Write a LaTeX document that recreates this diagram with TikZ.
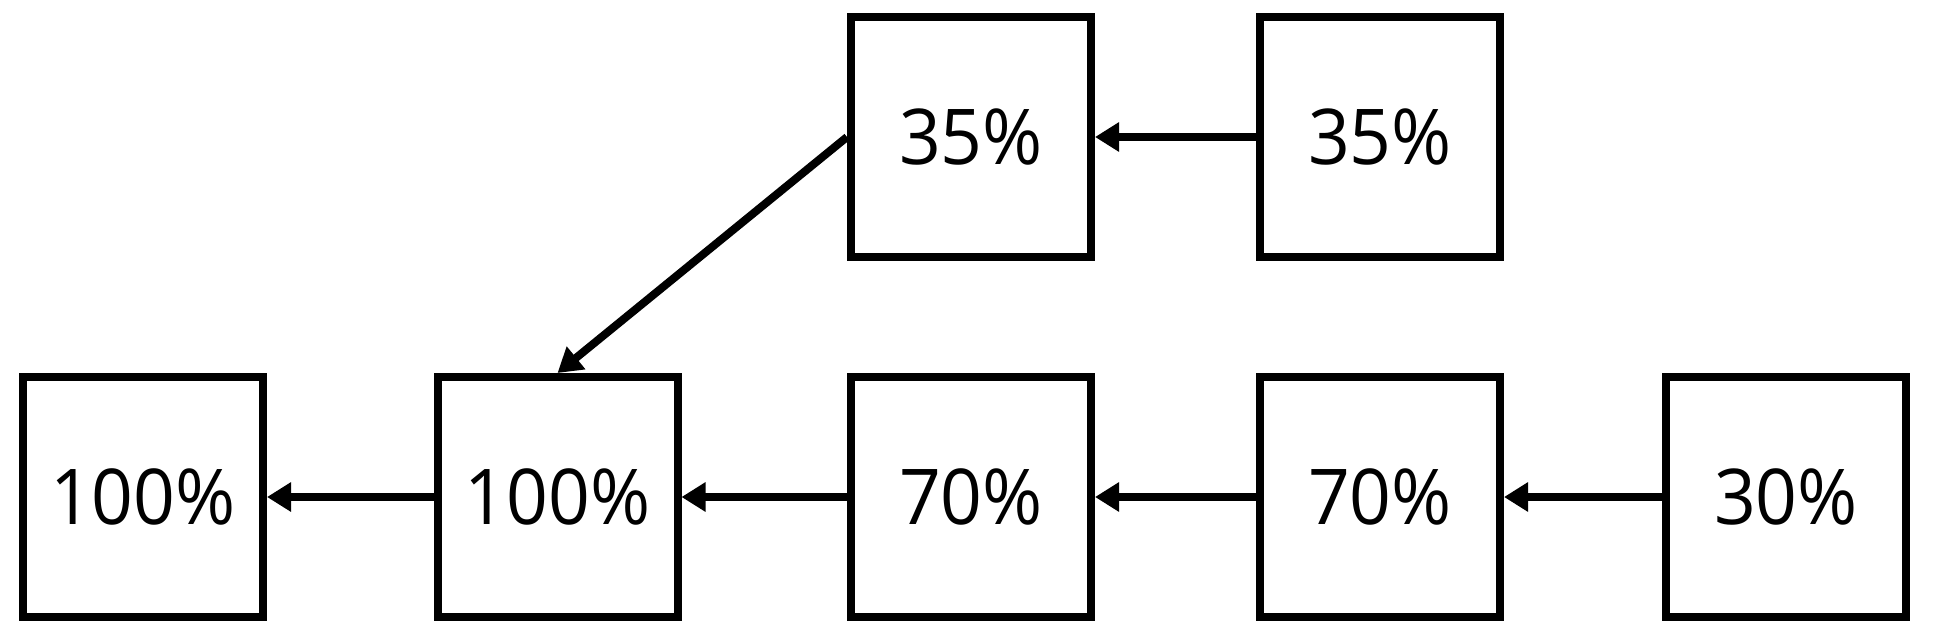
\documentclass[tikz,border=0pt]{standalone}
\usepackage{fontspec}
\setmainfont{Open Sans}
\usetikzlibrary{arrows.meta}
\newcommand{\lbl}[1]{\scalebox{0.95}[1]{#1}}
\begin{document}
\begin{tikzpicture}[x=1pt,y=-1pt,
  box/.style={draw=black, line width=8pt, minimum width=240pt, minimum height=240pt,
              inner sep=0pt, font=\fontsize{77}{80}\selectfont},
  conn/.style={draw=black, line width=8pt, -{Triangle[length=24pt,width=28pt]}}]
\fill[white] (0,0) rectangle (1943,640);
\useasboundingbox (0,0) rectangle (1943,640);
\node[box] (A) at (143,497) {\lbl{100\%}};
\node[box] (B) at (557.5,497) {\lbl{100\%}};
\node[box] (C) at (971,497) {\lbl{70\%}};
\node[box] (D) at (1380,497) {\lbl{70\%}};
\node[box] (E) at (1786,497) {\raisebox{-6pt}{\lbl{30\%}}};
\node[box] (F) at (971,137) {\lbl{35\%}};
\node[box] (G) at (1380,137) {\lbl{35\%}};
\draw[conn] (B.west) -- (A.east);
\draw[conn] (C.west) -- (B.east);
\draw[conn] (D.west) -- (C.east);
\draw[conn] (E.west) -- (D.east);
\draw[conn] (G.west) -- (F.east);
\draw[conn] (F.west) -- (B.north);
\end{tikzpicture}
\end{document}
